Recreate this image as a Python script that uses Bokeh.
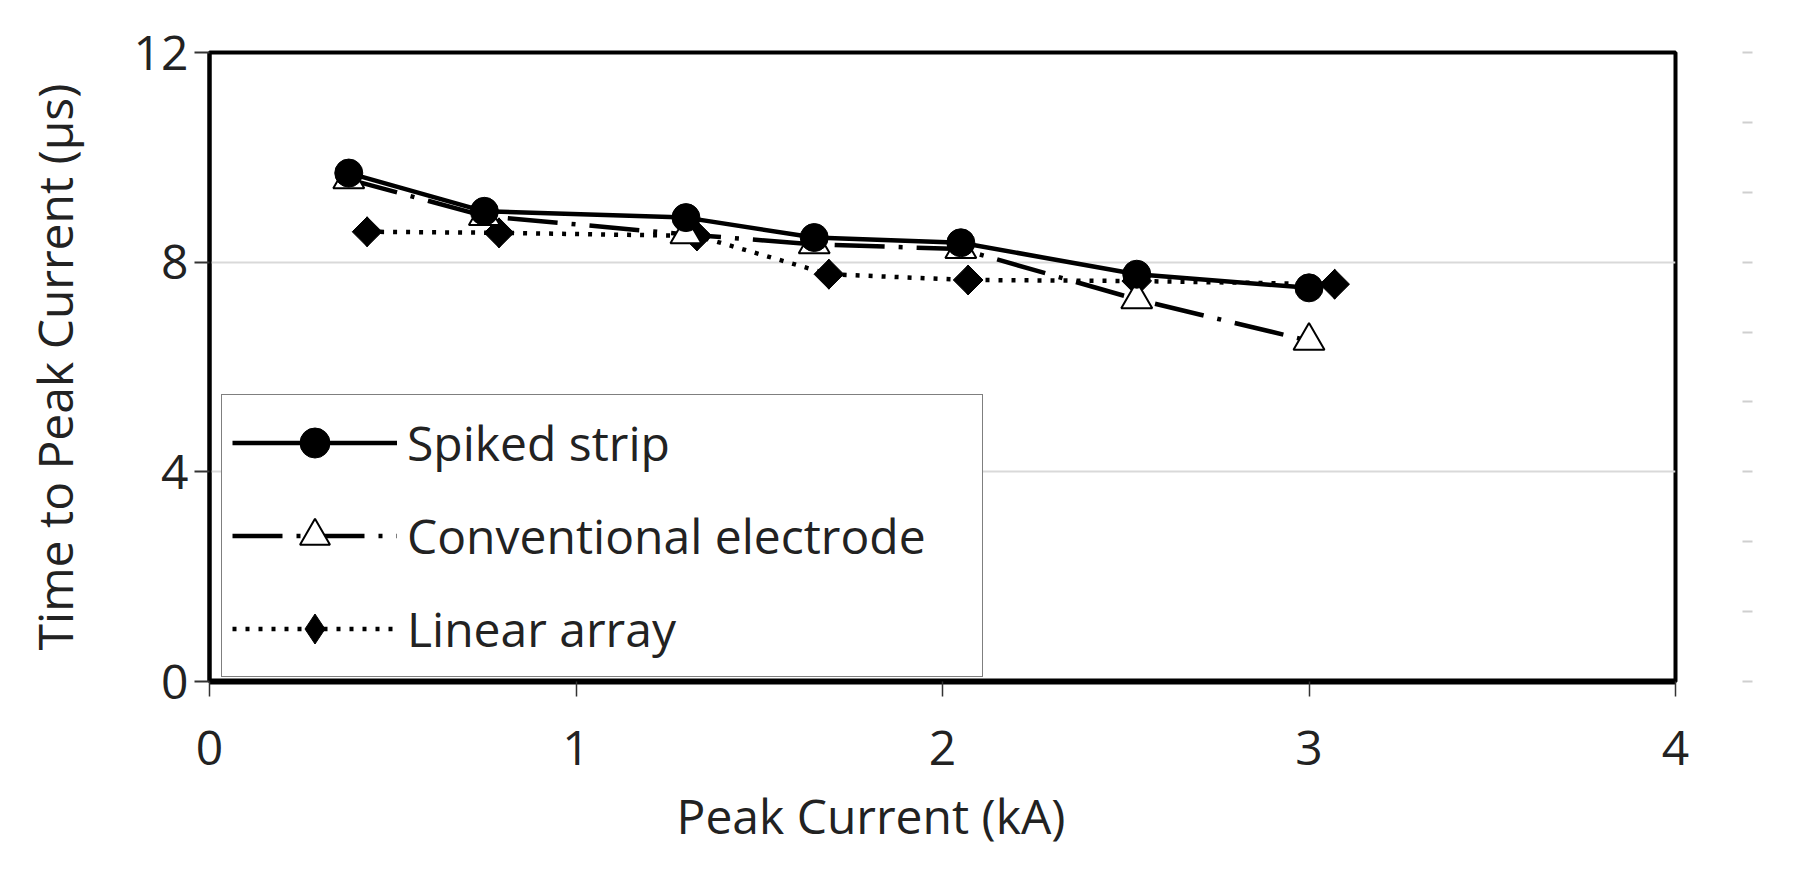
from bokeh.plotting import figure
from bokeh.models import (Range1d, LinearAxis, FixedTicker, Legend, LegendItem,
                          ColumnDataSource, CustomJSTickFormatter, Title)
from bokeh.embed import file_html
from bokeh.resources import INLINE

FONT = "Open Sans"
TXT = "#222222"
FS = "48px"

# ---- data ----
spiked_x = [0.38, 0.75, 1.30, 1.65, 2.05, 2.53, 3.00]
spiked_y = [9.70, 8.97, 8.85, 8.47, 8.37, 7.77, 7.51]

conv_x = [0.38, 0.75, 1.30, 1.65, 2.05, 2.53, 3.00]
conv_y = [9.58, 8.88, 8.53, 8.34, 8.25, 7.29, 6.50]

linear_x = [0.43, 0.79, 1.33, 1.69, 2.07, 2.53, 3.07]
linear_y = [8.58, 8.56, 8.50, 7.77, 7.66, 7.64, 7.58]

series_names = ["Spiked strip", "Conventional electrode", "Linear array"]
x_title = "Peak Current (kA)"
y_title = "Time to Peak Current (\u03bcs)"
x_ticks = [0, 1, 2, 3, 4]
y_ticks = [0, 4, 8, 12]
right_ticks = [0, 4 / 3, 8 / 3, 4, 16 / 3, 20 / 3, 8, 28 / 3, 32 / 3, 12]

p = figure(width=1780, height=870, output_backend="svg", toolbar_location=None,
           x_range=Range1d(0, 4), y_range=Range1d(0, 12),
           min_border_left=209, min_border_right=105,
           min_border_top=52, min_border_bottom=189)

p.background_fill_color = "white"
p.border_fill_color = "white"
p.outline_line_color = "black"
p.outline_line_width = 4

p.xgrid.visible = False
p.ygrid.ticker = FixedTicker(ticks=y_ticks)
p.ygrid.grid_line_color = "#d9d9d9"
p.ygrid.grid_line_width = 2

# x axis
xa = p.xaxis[0]
xa.ticker = FixedTicker(ticks=x_ticks)
xa.axis_line_width = 6
xa.axis_line_color = "black"
xa.major_tick_in = 0
xa.major_tick_out = 15
xa.major_tick_line_width = 1.5
xa.major_tick_line_color = "#333333"
xa.minor_tick_line_color = None
xa.major_label_standoff = 34
xa.major_label_text_font = FONT
xa.major_label_text_font_size = FS
xa.major_label_text_color = TXT

# x axis title (sits left of centre in the reference)
xt = Title(text=x_title, align="left", offset=467, standoff=27,
           text_font=FONT, text_font_size=FS, text_font_style="normal",
           text_color=TXT)
p.add_layout(xt, "below")

# y axis
ya = p.yaxis[0]
ya.ticker = FixedTicker(ticks=y_ticks)
ya.axis_label = y_title
ya.axis_line_width = 4
ya.axis_line_color = "black"
ya.major_tick_in = 0
ya.major_tick_out = 15
ya.major_tick_line_width = 2
ya.major_tick_line_color = "#333333"
ya.minor_tick_line_color = None
ya.major_label_standoff = 6
ya.axis_label_standoff = 44
ya.major_label_text_font = FONT
ya.major_label_text_font_size = FS
ya.major_label_text_color = TXT
ya.axis_label_text_font = FONT
ya.axis_label_text_font_size = FS
ya.axis_label_text_font_style = "normal"
ya.axis_label_text_color = TXT

# faint right-side tick marks
ra = LinearAxis(ticker=FixedTicker(ticks=right_ticks),
                formatter=CustomJSTickFormatter(code="return ''"),
                axis_line_color=None, minor_tick_line_color=None,
                major_tick_in=0, major_tick_out=77,
                major_tick_line_color="#cfcfcf", major_tick_line_width=2,
                major_tick_line_dash="10 67")
p.add_layout(ra, "right")

src_s = ColumnDataSource(dict(x=spiked_x, y=spiked_y))
src_c = ColumnDataSource(dict(x=conv_x, y=conv_y))
src_l = ColumnDataSource(dict(x=linear_x, y=linear_y))

# linear array (bottom)
l_line = p.line("x", "y", source=src_l, line_color="black", line_width=4.5,
                line_dash="4 9")
# narrow diamond (used for the legend swatch, hidden under the square diamonds)
l_leg = p.scatter("x", "y", source=src_l, marker="diamond", size=30,
                  fill_color="black", line_color="black")
l_mark = p.scatter("x", "y", source=src_l, marker="square", size=21, angle=0.785398,
                   fill_color="black", line_color="black")
# conventional electrode
c_line = p.line("x", "y", source=src_c, line_color="black", line_width=4.5,
                line_dash="50 14 4 14", line_join="round")
c_mark = p.scatter("x", "y", source=src_c, marker="triangle", size=31,
                   fill_color="white", line_color="black", line_width=2)
# spiked strip (top)
s_line = p.line("x", "y", source=src_s, line_color="black", line_width=4.5,
                line_join="round")
s_mark = p.scatter("x", "y", source=src_s, marker="circle", size=28,
                   fill_color="black", line_color="black")

legend = Legend(items=[
    LegendItem(label=series_names[0], renderers=[s_line, s_mark]),
    LegendItem(label=series_names[1], renderers=[c_line, c_mark]),
    LegendItem(label=series_names[2], renderers=[l_line, l_leg]),
], location=(12, 4))
legend.border_line_color = "black"
legend.border_line_width = 1.5
legend.background_fill_color = "white"
legend.background_fill_alpha = 1
legend.label_text_font = FONT
legend.label_text_font_size = FS
legend.label_text_color = TXT
legend.padding = 10
legend.spacing = 18
legend.glyph_width = 165
legend.glyph_height = 75
legend.label_height = 75
legend.label_width = 565
legend.label_standoff = 10
legend.margin = 0
p.add_layout(legend)

open("out.html", "w").write(file_html(p, INLINE))
